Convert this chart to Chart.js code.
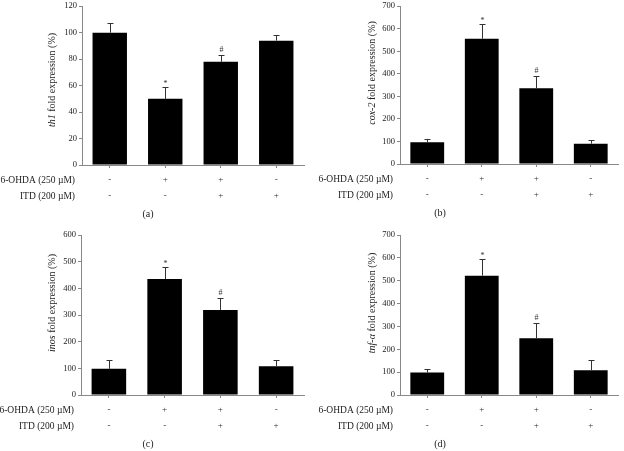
<!DOCTYPE html>
<html>
<head>
<meta charset="utf-8">
<script src="https://cdn.jsdelivr.net/npm/chart.js@4.4.0/dist/chart.umd.min.js"></script>
<style>
  html, body { margin: 0; padding: 0; background: #fff; }
  #wrap { position: relative; width: 624px; height: 451px; }
  .panel { position: absolute; width: 312px; }
</style>
</head>
<body>
<div id="wrap">
  <div class="panel" style="left:0;top:0;height:225px"><canvas id="chartA"></canvas></div>
  <div class="panel" style="left:312px;top:0;height:225px"><canvas id="chartB"></canvas></div>
  <div class="panel" style="left:0;top:225px;height:226px"><canvas id="chartC"></canvas></div>
  <div class="panel" style="left:312px;top:225px;height:226px"><canvas id="chartD"></canvas></div>
</div>
<script>
// treatment rows under each bar
const ohdaRow = ['-', '+', '+', '-'];
const itdRow = ['-', '-', '+', '+'];
const rowNames = ['6-OHDA (250 \u00b5M)', 'ITD (200 \u00b5M)'];
const marks = ['', '*', '#', ''];

// th1
const th1Values = [100, 50, 78, 94];
const th1Errors = [7.5, 9, 5.5, 4];
// cox-2
const cox2Values = [97, 556, 336, 90];
const cox2Errors = [12, 64, 54, 16];
// inos
const inosValues = [98, 435, 319, 108];
const inosErrors = [34, 44, 43, 24];
// tnf-alpha
const tnfValues = [98, 522, 248, 108];
const tnfErrors = [14, 73, 68, 44];

const serif = "'Liberation Serif', 'DejaVu Serif', serif";
Chart.defaults.font.family = serif;
Chart.defaults.color = '#222';

const categories = ohdaRow.map((o, i) => [o, itdRow[i]]);

// error bars, markers, y title, row names and panel letter
const extras = {
    id: 'extras',
    afterDatasetsDraw(chart, args, opts) {
        const ctx = chart.ctx;
        const area = chart.chartArea;
        const y = chart.scales.y;
        const bars = chart.getDatasetMeta(0).data;
        ctx.save();

        ctx.strokeStyle = '#333';
        ctx.lineWidth = 1;
        ctx.fillStyle = '#333';
        ctx.font = '8px ' + serif;
        ctx.textAlign = 'center';
        ctx.textBaseline = 'bottom';
        bars.forEach((bar, i) => {
            const v = opts.values[i];
            const top = Math.round(y.getPixelForValue(v + opts.errors[i])) + 0.5;
            const x = Math.round(bar.x) + 0.5;
            ctx.beginPath();
            ctx.moveTo(x, y.getPixelForValue(v));
            ctx.lineTo(x, top);
            ctx.moveTo(x - 3, top);
            ctx.lineTo(x + 3, top);
            ctx.stroke();
            if (marks[i]) ctx.fillText(marks[i], x, top - (marks[i] === '*' ? 0 : 2));
        });

        // y title with italic gene name
        ctx.fillStyle = '#222';
        ctx.textBaseline = 'middle';
        ctx.textAlign = 'left';
        const italic = 'italic 10px ' + serif;
        const normal = '10px ' + serif;
        const rest = ' fold expression (%)';
        ctx.font = italic;
        const w1 = ctx.measureText(opts.gene).width;
        ctx.font = normal;
        const w2 = ctx.measureText(rest).width;
        ctx.translate(opts.titleX, opts.titleY);
        ctx.rotate(-Math.PI / 2);
        ctx.font = italic;
        ctx.fillText(opts.gene, -(w1 + w2) / 2, 0);
        ctx.font = normal;
        ctx.fillText(rest, -(w1 + w2) / 2 + w1, 0);
        ctx.setTransform(1, 0, 0, 1, 0, 0);

        // row names
        ctx.font = '9.5px ' + serif;
        ctx.textAlign = 'right';
        ctx.fillText(rowNames[0], area.left - 7, area.bottom + 15);
        ctx.fillText(rowNames[1], area.left - 7, area.bottom + 31);

        // panel letter
        ctx.font = '10px ' + serif;
        ctx.textAlign = 'center';
        ctx.fillText(opts.letter, opts.letterX, area.bottom + 49);
        ctx.restore();
    }
};

function makeChart(id, p) {
    return new Chart(document.getElementById(id), {
        type: 'bar',
        data: {
            labels: categories,
            datasets: [{
                data: p.values,
                backgroundColor: '#000',
                borderWidth: 0,
                categoryPercentage: 1,
                barPercentage: 0.62
            }]
        },
        options: {
            responsive: true,
            maintainAspectRatio: false,
            animation: false,
            layout: { padding: { top: p.top, right: p.right, left: 0, bottom: 0 } },
            plugins: {
                legend: { display: false },
                tooltip: { enabled: false },
                extras: p
            },
            scales: {
                x: {
                    ticks: { color: '#333', font: { size: 9, lineHeight: '16px' }, padding: 4, maxRotation: 0, autoSkip: false },
                    grid: { drawOnChartArea: false, tickLength: 3, color: '#888', offset: false },
                    border: { color: '#888' },
                    afterFit: s => { s.height = p.bottom; }
                },
                y: {
                    min: 0,
                    max: p.max,
                    ticks: { stepSize: p.step, color: '#222', font: { size: 8.5, lineHeight: 1 }, padding: 2 },
                    grid: { drawOnChartArea: false, tickLength: 3, color: '#888' },
                    border: { color: '#888' },
                    afterFit: s => { s.width = p.left; }
                }
            }
        },
        plugins: [extras]
    });
}

makeChart('chartA', { values: th1Values, errors: th1Errors, gene: 'th1', max: 120, step: 20,
    left: 82, right: 8, top: 4, bottom: 60, titleX: 52, titleY: 80, letter: '(a)', letterX: 148 });
makeChart('chartB', { values: cox2Values, errors: cox2Errors, gene: 'cox-2', max: 700, step: 100,
    left: 88, right: 6, top: 4, bottom: 61, titleX: 60, titleY: 73, letter: '(b)', letterX: 128 });
makeChart('chartC', { values: inosValues, errors: inosErrors, gene: 'inos', max: 600, step: 100,
    left: 81, right: 8, top: 10, bottom: 56, titleX: 52, titleY: 78, letter: '(c)', letterX: 148 });
makeChart('chartD', { values: tnfValues, errors: tnfErrors, gene: 'tnf-\u03b1', max: 700, step: 100,
    left: 88, right: 6, top: 10, bottom: 56, titleX: 60, titleY: 78, letter: '(d)', letterX: 128 });
</script>
</body>
</html>
